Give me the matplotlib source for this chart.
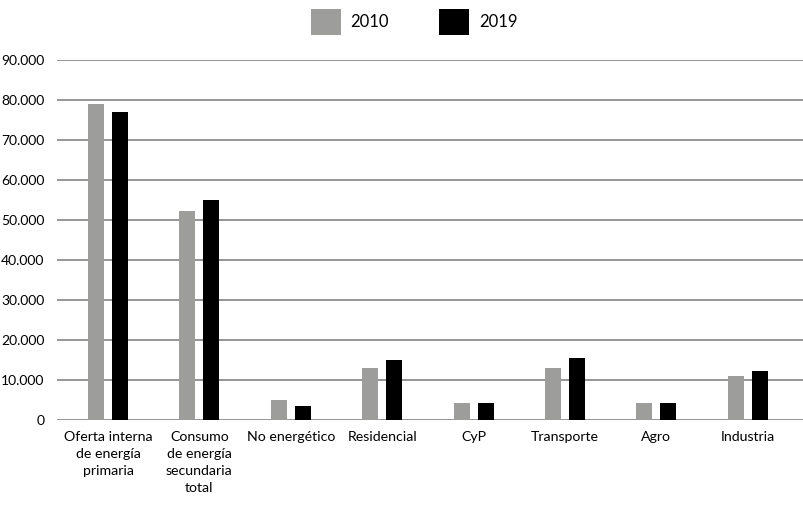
import matplotlib
matplotlib.use("Agg")
import matplotlib.pyplot as plt
from matplotlib.patches import Patch
import numpy as np

categories = [
    "Oferta interna\nde energía\nprimaria",
    "Consumo\nde energía\nsecundaria\ntotal",
    "No energético",
    "Residencial",
    "CyP",
    "Transporte",
    "Agro",
    "Industria",
]
values_2010 = [79000, 52200, 5000, 13000, 4250, 13000, 4250, 11000]
values_2019 = [77000, 55000, 3500, 15000, 4250, 15500, 4250, 12250]
series_labels = ["2010", "2019"]
y_ticks = [0, 10000, 20000, 30000, 40000, 50000, 60000, 70000, 80000, 90000]

plt.rcParams["font.family"] = ["Lato", "DejaVu Sans"]

W, H = 804, 509
fig = plt.figure(figsize=(W / 100, H / 100), dpi=100)
ax = fig.add_axes([57 / W, (H - 420) / H, (804 - 57) / W, 360 / H])

x = np.arange(len(categories))
bw = 0.175
off = 0.131
ax.bar(x - off, values_2010, bw, color="#9d9d9b", zorder=3)
ax.bar(x + off, values_2019, bw, color="#000000", zorder=3)

ax.set_xlim(-0.558, 7.615)
ax.set_ylim(0, 90000)
ax.set_yticks(y_ticks)
ax.set_yticklabels([f"{v:,}".replace(",", ".") for v in y_ticks], fontsize=10)
ax.set_xticks(x)
ax.set_xticklabels(categories, fontsize=10.2, linespacing=1.5, va="top")
ax.tick_params(axis="both", length=0, colors="black")
ax.tick_params(axis="y", pad=9)
ax.tick_params(axis="x", pad=8)
ax.yaxis.grid(True, color="#8c8c8c", linewidth=1.3, zorder=0)
for s in ax.spines.values():
    s.set_visible(False)

handles = [Patch(facecolor="#9d9d9b"), Patch(facecolor="#000000")]
fig.legend(handles, series_labels, loc="upper center", bbox_to_anchor=(0.515, 1.012),
           ncol=2, frameon=False, fontsize=12, handlelength=1.8, handleheight=2.0,
           columnspacing=3.0, handletextpad=0.6)

fig.savefig("out.png", dpi=100)
